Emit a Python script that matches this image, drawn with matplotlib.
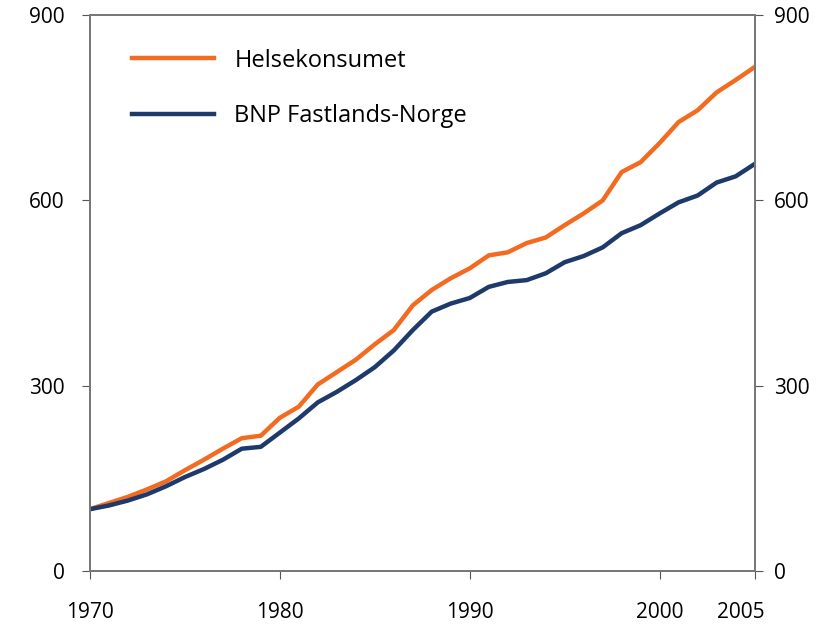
import matplotlib.pyplot as plt
import matplotlib.transforms as mtransforms

years = list(range(1970, 2006))
helse = [100, 110, 120, 132, 145, 163, 180, 198, 215, 219,
         248, 266, 302, 322, 342, 367, 390, 430, 455, 474,
         490, 511, 516, 531, 540, 560, 579, 600, 646, 662,
         693, 727, 746, 775, 795, 816]
bnp = [100, 106, 114, 124, 137, 152, 165, 180, 198, 201,
       224, 247, 273, 290, 309, 330, 357, 390, 420, 433,
       442, 460, 468, 471, 482, 500, 510, 524, 547, 560,
       579, 597, 608, 629, 639, 659]

xticks = [1970, 1980, 1990, 2000, 2005]
yticks = [0, 300, 600, 900]

plt.rc('font', family='Open Sans', size=15)
fig = plt.figure(figsize=(8.32, 6.33), dpi=100)
ax = fig.add_axes([0.108, 0.098, 0.799, 0.878])

ax.plot(years, helse, color='#F26B21', linewidth=3.2, label='Helsekonsumet')
ax.plot(years, bnp, color='#1D3A6B', linewidth=3.2, label='BNP Fastlands-Norge')

ax.set_xlim(1970, 2005)
ax.set_ylim(0, 900)
ax.set_xticks(xticks)
ax.set_yticks(yticks)
ax.tick_params(axis='x', direction='out', length=6, pad=16, color='#555555')
ax.tick_params(axis='y', direction='out', length=6, pad=12, color='#555555')

# the last year label sits a bit to the left in the original
shift = mtransforms.ScaledTranslation(-10 / 72, 0, fig.dpi_scale_trans)
lbl = ax.get_xticklabels()[-1]
lbl.set_transform(lbl.get_transform() + shift)

ax2 = ax.twinx()
ax2.set_ylim(0, 900)
ax2.set_yticks(yticks)
ax2.tick_params(axis='y', direction='out', length=6, pad=8, color='#555555')

for a in (ax, ax2):
    for s in a.spines.values():
        s.set_color('#777777')
        s.set_linewidth(1.3)

ax.legend(loc='upper left', frameon=False, fontsize=17, handlelength=3.5,
          handletextpad=0.85, labelspacing=1.33, borderaxespad=0,
          borderpad=0, bbox_to_anchor=(0.063, 0.94))

fig.savefig('out.png')
